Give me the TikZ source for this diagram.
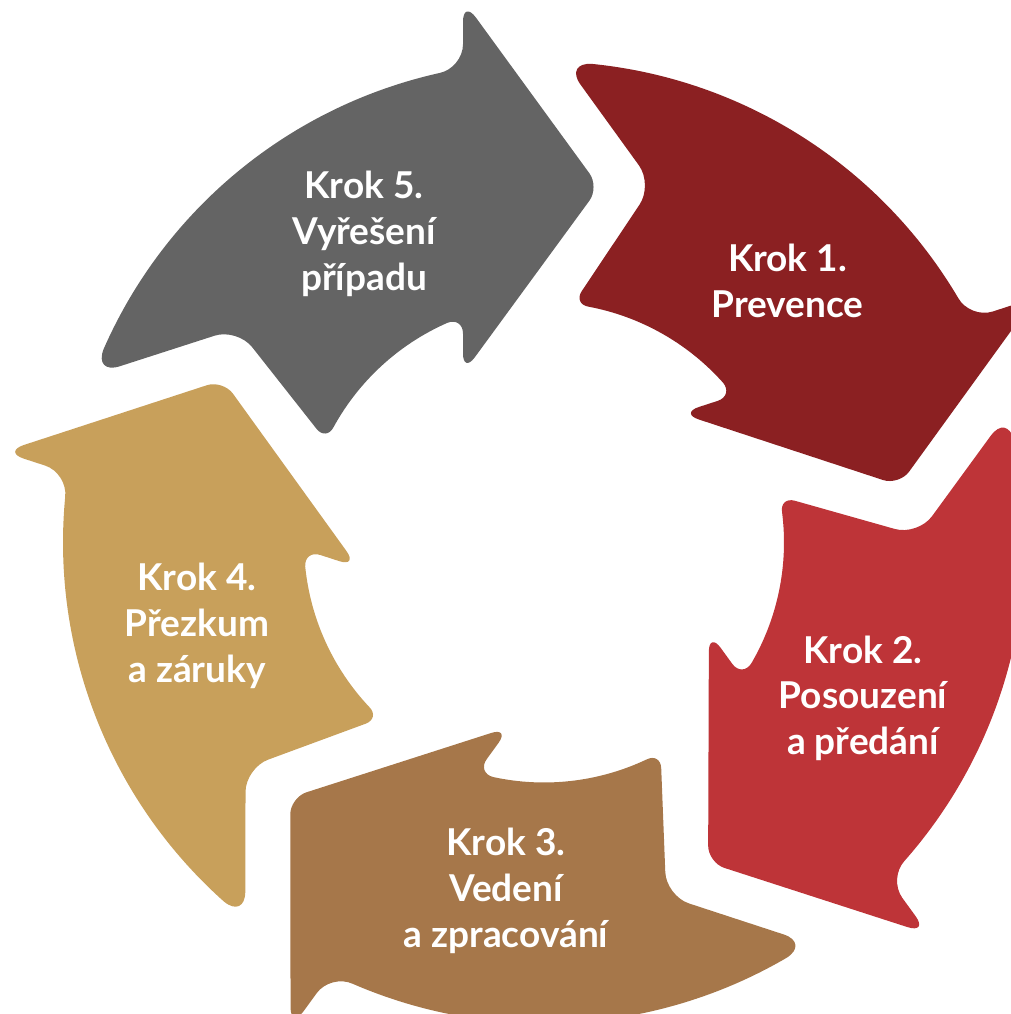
\documentclass[tikz,border=0pt]{standalone}
\usepackage{fontspec}
\newfontfamily\labelfont{Lato}
\definecolor{stepgray}{RGB}{100,100,100}
\definecolor{stepdarkred}{RGB}{139,32,34}
\definecolor{stepred}{RGB}{190,52,56}
\definecolor{stepbrown}{RGB}{166,119,74}
\definecolor{steptan}{RGB}{200,160,91}

\begin{document}
\begin{tikzpicture}[x=1pt,y=1pt,
  steplabel/.style={text=white, inner sep=0pt, anchor=base,
    font=\labelfont\bfseries\fontsize{37}{45.75}\selectfont}]
% origin = centre of the cycle
\useasboundingbox (-544,-471.5) rectangle (467,542.5);
\clip (-544,-471.5) rectangle (467,542.5);

% one curved block arrow (notched tail, barbed head), repeated every 72 degrees
\foreach \ang/\col in {0/stepgray,-72/stepdarkred,-144/stepred,-216/stepbrown,-288/steptan}{
  \fill[\col, rotate=\ang]
    (-424.3pt,176.2pt) .. controls (-438.9pt,171.5pt) and (-446.1pt,179.3pt) .. (156.26:481pt)
    arc[start angle=156.26, end angle=102.56, radius=481pt]
    .. controls (-91.6pt,472.0pt) and (-81pt,484.9pt) .. (-81pt,498.1pt)
    -- (-81pt,520.6pt) .. controls (-81pt,532.7pt) and (-75.2pt,534.6pt) .. (-68.0pt,524.8pt)
    -- (45.4pt,369.2pt) .. controls (50.9pt,361.7pt) and (50.9pt,349.3pt) .. (45.4pt,341.8pt)
    -- (-69.2pt,185.2pt) .. controls (-75.7pt,176.3pt) and (-81pt,178.1pt) .. (-81pt,189.1pt)
    -- (-81pt,208.9pt) .. controls (-81pt,218.3pt) and (-88.1pt,223.1pt) .. (113.76:240pt)
    arc[start angle=113.76, end angle=151.28, radius=240pt]
    .. controls (-214.4pt,107.5pt) and (-222.1pt,106.8pt) .. (-227.5pt,113.7pt)
    -- (-291.8pt,195.3pt) .. controls (-299.9pt,205.7pt) and (-316.9pt,210.9pt) .. (-329.4pt,206.8pt)
    -- cycle;
}

\node[steplabel] (krok1) at (243.5,270.8)
  {\begin{tabular}[t]{@{}c@{}}Krok 1.\\Prevence\end{tabular}};
\node[steplabel] (krok2) at (319,-120.5)
  {\begin{tabular}[t]{@{}c@{}}Krok 2.\\Posouzení\\a předání\end{tabular}};
\node[steplabel] (krok3) at (-38,-313.2)
  {\begin{tabular}[t]{@{}c@{}}Krok 3.\\Vedení\\a zpracování\end{tabular}};
\node[steplabel] (krok4) at (-347,-48.2)
  {\begin{tabular}[t]{@{}c@{}}Krok 4.\\Přezkum\\a záruky\end{tabular}};
\node[steplabel] (krok5) at (-180,343.5)
  {\begin{tabular}[t]{@{}c@{}}Krok 5.\\Vyřešení\\případu\end{tabular}};
\end{tikzpicture}
\end{document}
